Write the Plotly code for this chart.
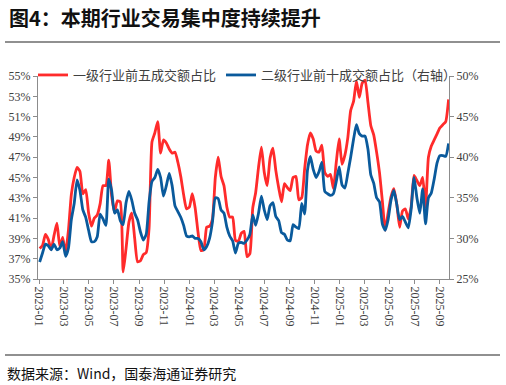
import pandas as pd
import plotly.graph_objects as go

# weekly observation dates
dates = pd.date_range("2023-01-02", periods=143, freq="7D")

# 一级行业前五成交额占比 (left axis, %)
top5_l1 = [
    38.0, 38.3, 39.4, 38.9, 37.9, 39.3, 40.5, 38.2, 39.1, 37.6,
    39.8, 43.3, 45.0, 46.0, 45.6, 43.4, 43.8, 41.5, 40.2, 41.0,
    41.3, 42.4, 44.2, 44.2, 46.7, 43.2, 41.6, 42.7, 42.6, 35.7,
    38.0, 40.6, 41.5, 39.0, 36.7, 36.8, 37.4, 37.6, 40.0, 48.5,
    49.4, 50.5, 47.4, 48.7, 48.4, 47.8, 47.4, 47.5, 46.5, 45.1,
    43.3, 41.9, 42.1, 43.4, 42.0, 39.6, 37.8, 37.9, 40.1, 40.2,
    40.9, 45.0, 47.0, 45.1, 44.2, 42.1, 41.1, 41.1, 38.8, 38.7,
    39.5, 39.7, 37.2, 37.5, 42.0, 43.5, 46.0, 48.0, 45.5, 44.2,
    46.9, 47.9, 45.7, 44.0, 42.6, 44.4, 44.0, 43.7, 45.0, 45.1,
    42.8, 43.0, 45.8, 48.2, 49.4, 48.8, 47.6, 47.5, 48.2, 45.5,
    45.1, 45.3, 43.9, 46.5, 48.8, 46.3, 47.2, 48.9, 51.6, 52.5,
    54.5, 52.9, 54.3, 54.6, 52.4, 50.1, 49.2, 47.5, 45.5, 42.7,
    39.8, 41.5, 43.1, 43.9, 42.4, 40.1, 41.7, 41.9, 40.9, 42.1,
    45.2, 44.7, 44.2, 45.0, 42.1, 47.0, 48.1, 48.7, 49.3, 49.9,
    50.2, 50.5, 52.7,
]

# 二级行业前十成交额占比 (right axis, %)
top10_l2 = [
    27.1, 28.2, 29.3, 29.1, 28.6, 29.3, 28.6, 28.8, 29.6, 27.8,
    28.8, 32.3, 34.3, 37.2, 35.9, 33.5, 32.6, 31.0, 29.6, 29.6,
    30.2, 33.0, 32.4, 31.6, 37.3, 35.9, 33.1, 33.5, 32.2, 31.7,
    34.4, 35.8, 34.7, 33.1, 32.3, 30.8, 29.8, 30.5, 34.5, 37.0,
    37.5, 38.5, 37.5, 35.2, 36.5, 38.0, 36.5, 34.0, 33.3, 32.6,
    31.6, 30.3, 30.2, 30.3, 30.0, 30.0, 29.6, 28.6, 29.0, 30.0,
    32.0, 35.0, 34.9, 33.5, 33.1, 31.4, 30.3, 29.7, 28.2, 29.4,
    29.5, 29.4, 29.8, 30.5, 32.9, 31.6, 33.1, 35.2, 33.5, 32.3,
    34.0, 34.4, 32.7, 32.2, 30.7, 30.5, 29.8, 29.7, 31.7, 31.4,
    31.2, 34.3, 33.0, 38.4, 40.1, 38.5, 37.5, 38.2, 39.4, 35.8,
    35.5, 35.3, 35.5, 37.0, 38.8, 36.6, 36.2, 38.0, 40.0, 42.2,
    44.0, 42.9, 42.6, 42.6, 41.0, 37.8, 36.8, 35.0, 34.5, 31.8,
    31.0, 32.3, 34.7, 35.9, 34.2, 32.3, 32.7, 32.0, 31.3, 33.6,
    37.5, 35.0, 33.1, 36.1, 31.8, 35.0, 35.6, 37.3, 39.3, 40.2,
    40.2, 40.1, 41.7,
]

x_ticks = pd.date_range("2023-01-01", "2025-09-01", freq="2MS")
left_ticks = list(range(35, 56, 2))
left_labels = [f"{v}%" for v in left_ticks]
right_ticks = list(range(25, 51, 5))
right_labels = [f"{v}%" for v in right_ticks]

name1 = "一级行业前五成交额占比"
name2 = "二级行业前十成交额占比（右轴）"
title = "图4：本期行业交易集中度持续提升"
source = "数据来源：Wind，国泰海通证券研究"

RED = "#FF2B2B"
BLUE = "#0A5A9C"
CJK = "Noto Sans CJK SC"
SERIF = "Liberation Serif"

W, H = 506, 385
# plot-area box in figure pixels
PL, PR, PT, PB = 38, 449, 76, 279
# decorative separator rules (figure pixels)
RULE_X0, RULE_X1 = 5, 500
RULE_TOP_Y, RULE_BOTTOM_Y = 42, 355


def fx(x):
    return x / W


def fy(y):
    return 1 - y / H


fig = go.Figure()

# page-level overlay used only for the two separator rules
fig.add_trace(go.Scatter(
    x=[RULE_X0, RULE_X1, None, RULE_X0, RULE_X1],
    y=[RULE_TOP_Y, RULE_TOP_Y, None, RULE_BOTTOM_Y, RULE_BOTTOM_Y],
    mode="lines", line=dict(color="#222222", width=1.2),
    xaxis="x3", yaxis="y3", showlegend=False, hoverinfo="skip",
))

fig.add_trace(go.Scatter(
    x=dates, y=top5_l1, name=name1, mode="lines",
    line=dict(color=RED, width=2.8, shape="spline", smoothing=0.5),
    yaxis="y",
))
fig.add_trace(go.Scatter(
    x=dates, y=top10_l2, name=name2, mode="lines",
    line=dict(color=BLUE, width=2.8, shape="spline", smoothing=0.5),
    yaxis="y2",
))

axis_color = "#8C8C8C"
tick_font = dict(family=SERIF, size=12, color="#404040")

fig.update_layout(
    width=W, height=H,
    margin=dict(l=0, r=0, t=0, b=0, pad=0, autoexpand=False),
    paper_bgcolor="white", plot_bgcolor="rgba(0,0,0,0)",
    showlegend=True,
    legend=dict(
        orientation="h",
        x=fx(33), y=fy(75), xanchor="left", yanchor="middle",
        font=dict(family=CJK, size=13, color="#404040"),
        bgcolor="rgba(0,0,0,0)", itemwidth=30, tracegroupgap=0,
        traceorder="normal",
    ),
    xaxis=dict(
        type="date", automargin=False,
        domain=[fx(PL), fx(PR)], anchor="y",
        range=["2022-12-29", "2025-09-23"],
        tickvals=list(x_ticks), tickformat="%Y-%m", tickangle=90,
        ticks="outside", ticklen=4, tickcolor=axis_color,
        showline=True, linecolor=axis_color, linewidth=1,
        showgrid=False, zeroline=False, tickfont=tick_font,
    ),
    yaxis=dict(
        range=[35, 55], tickvals=left_ticks, ticktext=left_labels,
        domain=[fy(PB), fy(PT)], anchor="x",
        automargin=False,
        ticks="outside", ticklen=4, tickcolor=axis_color,
        showline=True, linecolor=axis_color, linewidth=1,
        showgrid=False, zeroline=False, tickfont=tick_font,
    ),
    yaxis2=dict(
        range=[25, 50], tickvals=right_ticks, ticktext=right_labels,
        overlaying="y", side="right", anchor="x", automargin=False,
        ticks="outside", ticklen=4, tickcolor=axis_color,
        showline=True, linecolor=axis_color, linewidth=1,
        showgrid=False, zeroline=False, tickfont=tick_font,
    ),
    xaxis3=dict(domain=[0, 1], range=[0, W], anchor="y3", visible=False,
                fixedrange=True),
    yaxis3=dict(domain=[0, 1], range=[H, 0], anchor="x3", visible=False,
                fixedrange=True),
    annotations=[
        dict(text="<b>" + title + "</b>", xref="paper", yref="paper",
             x=fx(7), y=fy(17), xanchor="left", yanchor="middle",
             showarrow=False, font=dict(family=CJK, size=20, color="#111111")),
        dict(text=source, xref="paper", yref="paper",
             x=fx(5), y=fy(373), xanchor="left", yanchor="middle",
             showarrow=False, font=dict(family=CJK, size=14, color="#111111")),
    ],
)

fig.write_html(
    "out.html",
    config={"displayModeBar": False},
    post_script="document.body.style.margin='0';document.body.style.overflow='hidden';",
)
